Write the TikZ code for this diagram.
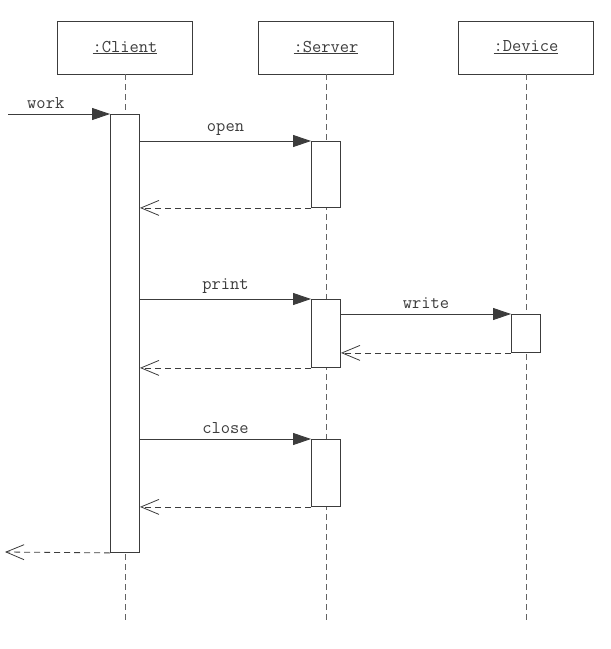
\documentclass[tikz,border=0pt]{standalone}
\usepackage{fontspec}
\usetikzlibrary{arrows.meta, positioning}
\definecolor{linecolor}{RGB}{60, 60, 60}
\tikzstyle{object} = [rectangle, draw=linecolor, line width=0.9pt, minimum width=135pt, minimum height=53pt, font=\ttfamily\fontsize{18}{21}\selectfont, text=linecolor]
\tikzstyle{act} = [rectangle, draw=linecolor, fill=white, line width=0.9pt, minimum width=29pt, inner sep=0pt, anchor=north]
\tikzstyle{lifeline} = [draw=linecolor!80, line width=0.7pt, dash pattern=on 6pt off 4pt]
\tikzstyle{call} = [draw=linecolor, line width=0.9pt, -{Triangle[length=18pt,width=12pt]}]
\tikzstyle{reply} = [draw=linecolor, line width=0.8pt, dash pattern=on 6pt off 4pt, -{Straight Barb[length=18pt,width=15pt]}]
\tikzstyle{msg} = [font=\ttfamily\fontsize{18}{21}\selectfont, text=linecolor, above=2pt]

\begin{document}
\begin{tikzpicture}[x=1pt, y=-1pt]
\useasboundingbox (0,0) rectangle (611,649);

% Objets
\node (client) [object] at (125,47.5) {\underline{:Client}};
\node (server) [object] at (326,47.5) {\underline{:Server}};
\node (device) [object] at (526,47.5) {\underline{:Device}};

% Lignes de vie
\coordinate (clientend) at (125,620);
\coordinate (serverend) at (326,620);
\coordinate (deviceend) at (526,620);
\draw [lifeline] (client) -- (clientend);
\draw [lifeline] (server) -- (serverend);
\draw [lifeline] (device) -- (deviceend);

% Activations
\node (clientact) [act, minimum height=438pt] at (125,114) {};
\node (openact) [act, minimum height=66pt] at (326,141) {};
\node (printact) [act, minimum height=68pt] at (326,299) {};
\node (writeact) [act, minimum height=38pt] at (526,314) {};
\node (closeact) [act, minimum height=67pt] at (326,439) {};

% Messages
\coordinate (workstart) at (8,114);
\coordinate (workend) at (5,552);
\draw [call] (workstart) -- node [msg, pos=0.37] {work} (clientact.north west);
\draw [call] (openact.north west -| clientact.east) -- node [msg] {open} (openact.north west);
\draw [reply] (openact.south west) -- (openact.south west -| clientact.east);
\draw [call] (printact.north west -| clientact.east) -- node [msg] {print} (printact.north west);
\draw [call] (writeact.north west -| printact.east) -- node [msg] {write} (writeact.north west);
\draw [reply] (writeact.south west) -- (writeact.south west -| printact.east);
\draw [reply] (printact.south west) -- (printact.south west -| clientact.east);
\draw [call] (closeact.north west -| clientact.east) -- node [msg] {close} (closeact.north west);
\draw [reply] (closeact.south west) -- (closeact.south west -| clientact.east);
\draw [reply] (clientact.south west) -- (workend);

\end{tikzpicture}
\end{document}
